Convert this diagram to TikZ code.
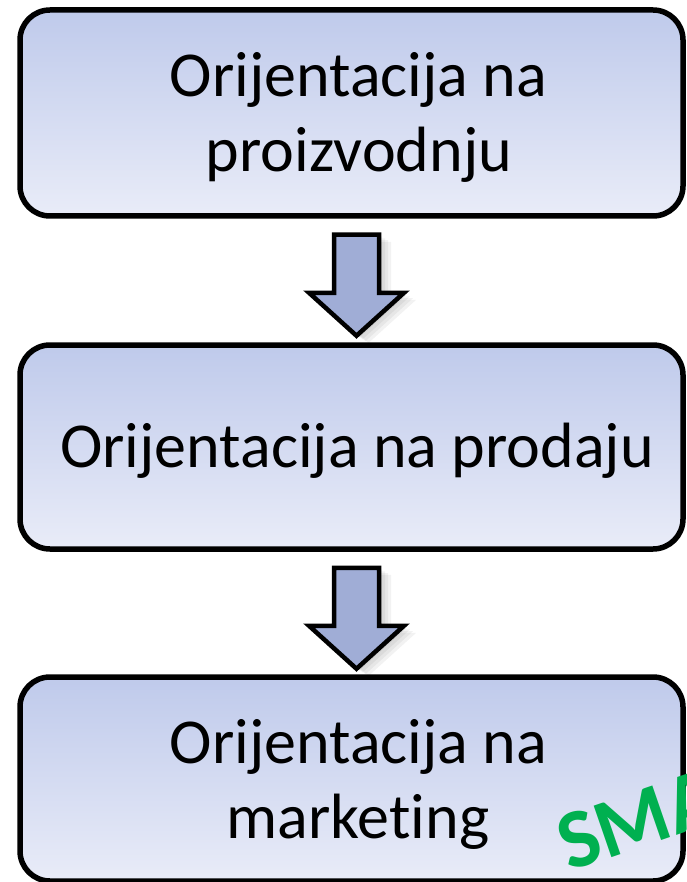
\documentclass[tikz,border=0pt]{standalone}
\usepackage{fontspec}
\setmainfont{Carlito}[Ligatures=NoCommon]
\begin{document}
\begin{tikzpicture}[x=1pt,y=1pt,
  box/.style={draw=black,line width=5.5pt,rounded corners=30pt,top color=boxtop,bottom color=boxbot,minimum width=663pt,inner sep=0pt},
  lbl/.style={anchor=base,inner sep=0pt,font=\fontsize{64}{77}\selectfont,text=black},
  barrow/.style={draw=black,line width=4.5pt,fill=arrowfill,miter limit=10},
  ashadow/.style={fill=black,opacity=0.05,draw=none}]
\definecolor{boxtop}{RGB}{191,202,235}
\definecolor{boxbot}{RGB}{233,236,248}
\definecolor{arrowfill}{RGB}{160,173,214}
\definecolor{smagreen}{RGB}{0,176,80}
\useasboundingbox (0,0) rectangle (686,-882);
\begin{scope}
\clip (0,0) rectangle (686,-882);
\node[box,minimum height=206pt] (b1) at (351.5,-113) {};
\node[box,minimum height=204pt] (b2) at (351.5,-447) {};
\node[box,minimum height=204pt] (b3) at (351.5,-779) {};

\node[lbl] (t1a) at (358.5,-97) {Orijentacija na};
\node[lbl] (t1b) at (359,-172) {proizvodnju};
\node[lbl] (t2) at (357,-467) {Orijentacija na prodaju};
\node[lbl] (t3a) at (358.5,-763) {Orijentacija na};
\node[lbl] (t3b) at (358,-838) {marketing};

% block arrows
\foreach \src/\nm in {b1/a1,b2/a2}{
  \path (\src.south) ++(5,-16) coordinate (\nm top);
  \foreach \d in {3,6,9,12}{
    \fill[ashadow] (\nm top) ++(-22.5+\d,-\d*0.6) -- ++(45,0) -- ++(0,-58) -- ++(25,0) -- ++(-47.5,-43) -- ++(-47.5,43) -- ++(25,0) -- cycle;
  }
  \draw[barrow] (\nm top) ++(-22.5,0) -- ++(45,0) -- ++(0,-58) -- ++(25,0) -- ++(-47.5,-43) -- ++(-47.5,43) -- ++(25,0) -- cycle;
}

\node[anchor=base west,rotate=19,inner sep=0pt,font=\fontsize{84}{86}\selectfont\bfseries,text=smagreen] (sma) at (569,-872) {SMA};
\end{scope}
\end{tikzpicture}
\end{document}
